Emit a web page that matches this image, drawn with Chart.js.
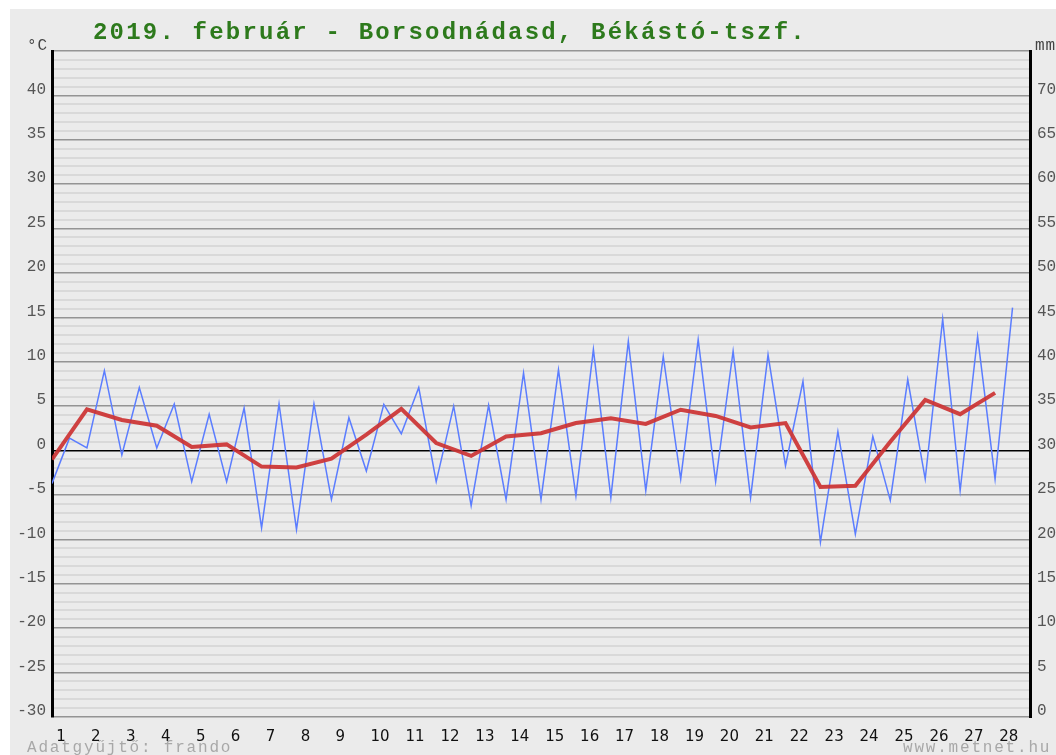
<!DOCTYPE html>
<html>
<head>
<meta charset="utf-8">
<script src="https://cdn.jsdelivr.net/npm/chart.js@4.4.1/dist/chart.umd.min.js"></script>
<style>
  html, body { margin: 0; padding: 0; background: #fff; }
  #wrap { width: 1056px; height: 755px; }
</style>
</head>
<body>
<div id="wrap"><canvas id="chart" width="1056" height="755"></canvas></div>
<script>
// february 2019, one entry per day
const days = ['1','2','3','4','5','6','7','8','9','10','11','12','13','14','15','16','17','18','19','20','21','22','23','24','25','26','27','28'];
const dailyLow = [-3.7, 0.3, -0.5, 0.3, -3.5, -3.5, -8.7, -8.9, -5.5, -2.3, 1.9, -3.5, -6.2, -5.5, -5.5, -5.1, -5.3, -4.5, -3.2, -3.5, -5.3, -1.7, -10.3, -9.4, -5.6, -3.2, -4.5, -3.2];
const dailyHigh = [1.4, 9.0, 7.1, 5.25, 4.1, 4.8, 5.25, 5.25, 3.7, 5.2, 7.1, 5.0, 5.1, 8.75, 9.1, 11.4, 12.3, 10.6, 12.5, 11.2, 10.8, 7.8, 2.15, 1.6, 8.0, 14.8, 12.85, 16.1];
const dailyMean = [-1.0, 4.65, 3.45, 2.8, 0.4, 0.7, -1.8, -1.9, -0.9, 1.8, 4.7, 0.85, -0.6, 1.6, 1.95, 3.1, 3.65, 3.0, 4.6, 3.9, 2.6, 3.1, -4.1, -3.95, 1.0, 5.7, 4.1, 6.5];
const tempTicks = [40, 35, 30, 25, 20, 15, 10, 5, 0, -5, -10, -15, -20, -25, -30];
const precipTicks = [70, 65, 60, 55, 50, 45, 40, 35, 30, 25, 20, 15, 10, 5, 0];

// low at the start of each day, high at mid-day
const bluePoints = [];
dailyLow.forEach((v, i) => {
    bluePoints.push({ x: i, y: v });
    bluePoints.push({ x: i + 0.5, y: dailyHigh[i] });
});
const redPoints = dailyMean.map((v, i) => ({ x: i, y: v }));

const monoFont = 'Liberation Mono';

const decorPlugin = {
    id: 'decor',
    beforeDraw(chart) {
        const ctx = chart.ctx;
        ctx.save();
        ctx.fillStyle = '#ffffff';
        ctx.fillRect(0, 0, chart.width, chart.height);
        ctx.fillStyle = '#ebebeb';
        ctx.fillRect(10, 9, chart.width - 10, chart.height - 9);
        ctx.restore();
    },
    afterDraw(chart) {
        const ctx = chart.ctx;
        ctx.save();
        ctx.textBaseline = 'alphabetic';
        ctx.textAlign = 'left';

        ctx.letterSpacing = '2.2px';
        ctx.font = 'bold 24px "' + monoFont + '"';
        ctx.fillStyle = '#2d7a1c';
        ctx.fillText('2019. február - Borsodnádasd, Békástó-tszf.', 93, 39);

        ctx.letterSpacing = '1px';
        ctx.font = '16px "' + monoFont + '"';
        ctx.fillStyle = '#444';
        ctx.fillText('°C', 27, 50);
        ctx.fillText('mm', 1035, 50);

        ctx.letterSpacing = '1.8px';
        ctx.fillStyle = '#a8a8a8';
        ctx.fillText('Adatgyűjtő: frando', 27, 752);
        ctx.fillText('www.metnet.hu', 903, 752);
        ctx.restore();
    }
};

new Chart(document.getElementById('chart'), {
    type: 'line',
    data: {
        datasets: [{
            label: 'középhőmérséklet',
            data: redPoints,
            borderColor: 'rgba(204, 50, 50, 0.92)',
            borderWidth: 4,
            pointRadius: 0,
            tension: 0,
            yAxisID: 'y'
        }, {
            label: 'hőmérséklet',
            data: bluePoints,
            borderColor: '#5b7dff',
            borderWidth: 1.5,
            pointRadius: 0,
            tension: 0,
            yAxisID: 'y'
        }]
    },
    options: {
        responsive: false,
        animation: false,
        events: [],
        layout: { padding: { top: 51, left: 0, right: 0, bottom: 0 } },
        plugins: {
            legend: { display: false },
            title: { display: false },
            tooltip: { enabled: false }
        },
        scales: {
            x: {
                type: 'linear',
                min: 0,
                max: 28,
                grid: { display: false },
                border: { display: false },
                afterBuildTicks: scale => {
                    scale.ticks = days.map((d, i) => ({ value: i + 0.12 }));
                },
                afterFit: scale => { scale.height = 38; },
                ticks: {
                    autoSkip: false,
                    maxRotation: 0,
                    align: 'start',
                    padding: 3,
                    color: '#111',
                    font: { family: 'DejaVu Sans', size: 15 },
                    callback: (v, i) => days[i]
                }
            },
            y: {
                position: 'left',
                min: -30,
                max: 45,
                afterFit: scale => { scale.width = 52; },
                border: { display: true, color: '#000', width: 3 },
                grid: {
                    drawTicks: false,
                    color: c => c.tick.value === 0 ? '#000' : (c.tick.value % 5 === 0 ? '#949494' : '#d9d9d9'),
                    lineWidth: c => c.tick.value % 5 === 0 ? 1.5 : 2
                },
                ticks: {
                    stepSize: 1,
                    autoSkip: false,
                    padding: 6,
                    labelOffset: -6,
                    color: '#555',
                    font: { family: monoFont, size: 16 },
                    callback: v => tempTicks.includes(v) ? String(v) : ''
                }
            },
            y2: {
                position: 'right',
                min: 0,
                max: 75,
                afterFit: scale => { scale.width = 26; },
                border: { display: true, color: '#000', width: 3 },
                grid: { display: false, drawTicks: false },
                ticks: {
                    stepSize: 5,
                    autoSkip: false,
                    padding: 7,
                    labelOffset: -6,
                    color: '#555',
                    font: { family: monoFont, size: 16 },
                    callback: v => precipTicks.includes(v) ? String(v) : ''
                }
            }
        }
    },
    plugins: [decorPlugin]
});
</script>
</body>
</html>
